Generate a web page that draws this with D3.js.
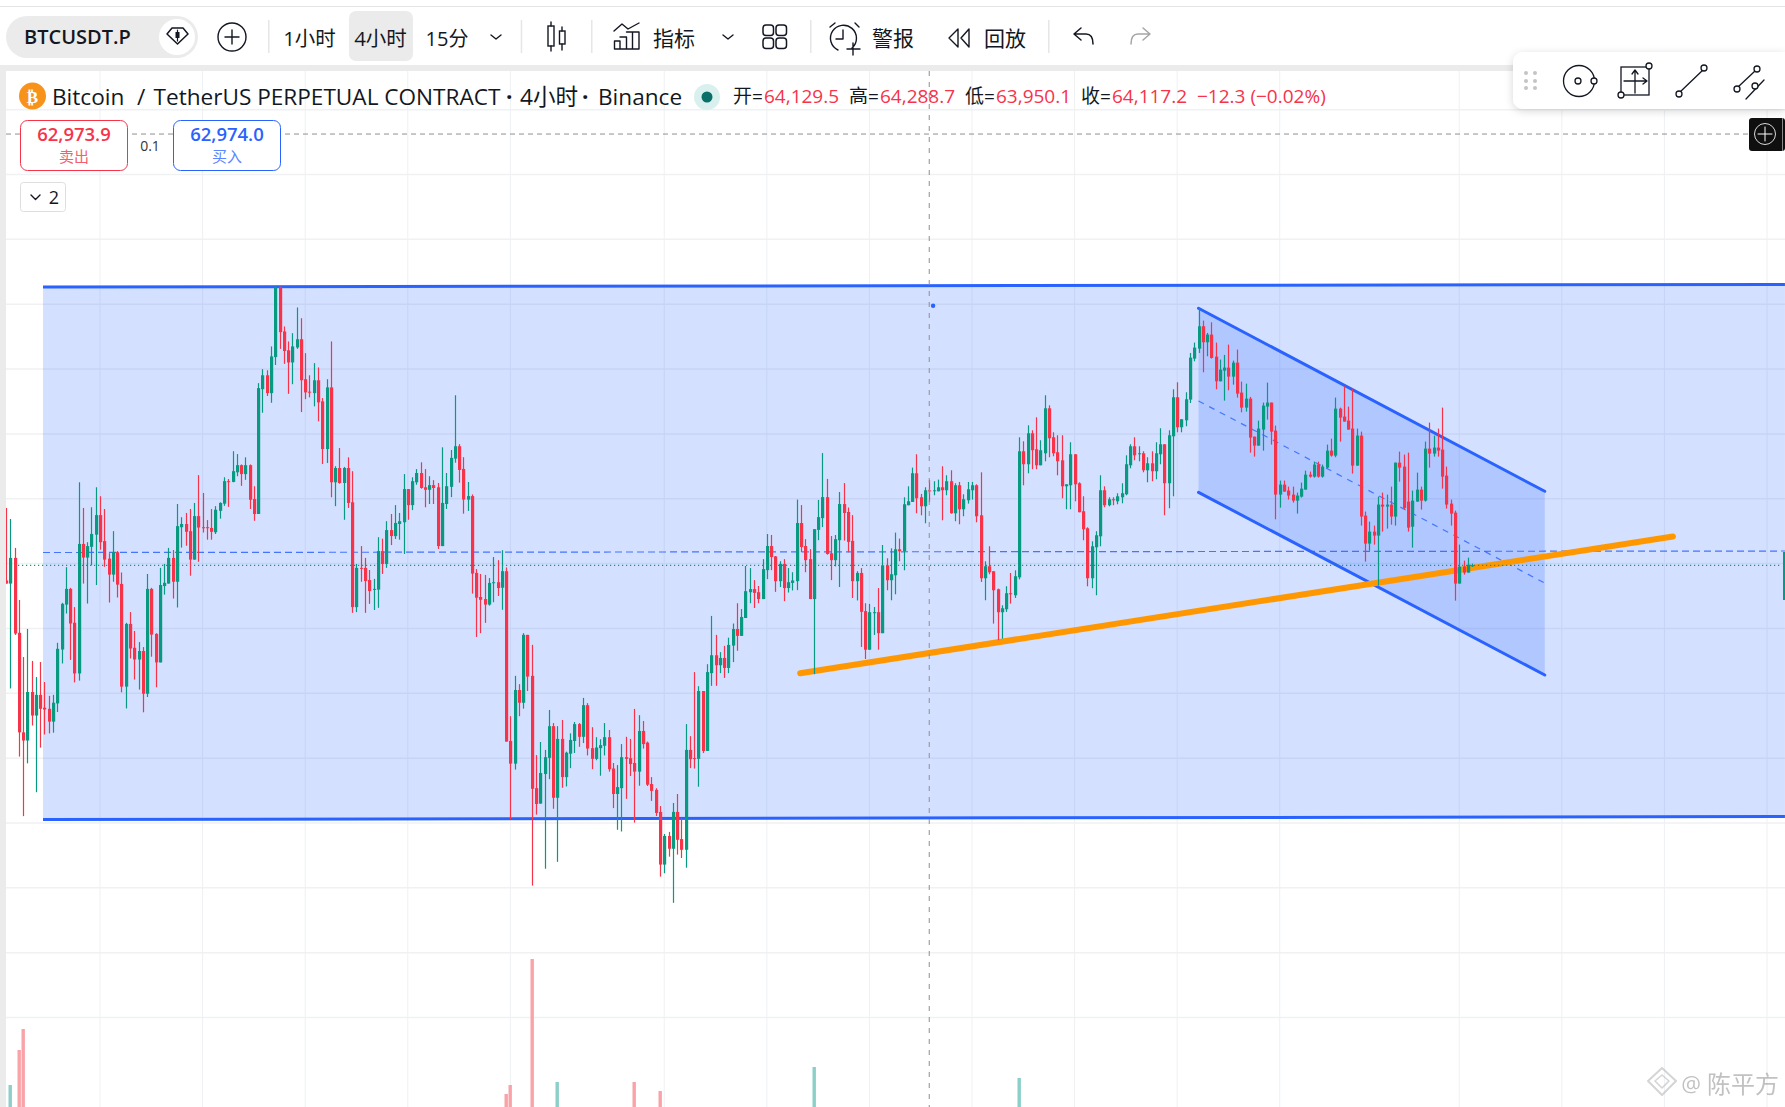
<!DOCTYPE html>
<html>
<head>
<meta charset="utf-8">
<script src="https://cdn.jsdelivr.net/npm/d3@7"></script>
<style>
html,body{margin:0;padding:0;background:#fff;overflow:hidden}
text{font-family:"Open Sans","Noto Sans CJK SC",sans-serif}
</style>
</head>
<body>
<div id="chart"></div>
<script>
// candles (index 216 is the one under the crosshair)
const opens = [
62740,62692,63088,61933,60398,60272,61020,60657,60976,60778,
60761,60563,60844,61675,62368,62610,62087,61306,63303,63093,
63259,63446,63748,63347,63077,62830,63176,62687,61103,62070,
61702,61521,61652,60993,62610,61916,61476,62654,62692,63088,
62720,63561,63611,63500,63061,63732,63561,63561,63550,63484,
63814,63924,64271,64260,64408,64518,64380,64518,63995,63765,
65690,65904,65629,66185,67268,66580,66289,66102,66333,66460,
65843,65651,65629,65827,65502,64766,65717,64254,64474,64243,
64474,63946,62329,62934,62934,62747,62599,62599,63193,62995,
63517,63424,63611,63638,64149,63902,64254,64397,64177,64138,
64210,64177,63270,63919,64184,64619,64810,64460,63987,64041,
62856,62485,62453,62368,62702,62713,62628,62883,60265,59915,
61051,60854,61901,61269,59537,59299,59755,60005,60493,59389,
60297,59708,60069,60265,60525,60329,60817,60154,59989,60154,
60191,60323,59840,59447,59537,60015,60000,59925,59792,60419,
60239,59601,59511,59171,58359,58800,58603,59171,58752,58587,
60127,60000,59989,61035,60111,61311,61587,61433,61545,61391,
61736,61991,61885,62161,62559,62607,62559,62453,62899,63271,
63111,62729,62995,62623,62702,62729,63626,63271,63069,62453,
63520,63701,64025,63159,63053,63361,63918,63796,63350,62729,
62856,62267,61672,62240,62251,61927,62974,62743,62820,63221,
63190,63900,63951,64393,64023,63884,64129.5,64121,64115,64177,
64131,64270,63776,64208,63838,63977,64131,64208,63745,62774,
62959,62882,62604,62250,62296,62543,62512,62789,64732,64532,
65010,64763,64516,64701,65395,64948,64717,64593,64192,64208,
64686,64239,63807,63545,62774,63252,63421,64131,63900,63992,
63961,64023,64069,64516,64809,64686,64701,64439,64547,64424,
64686,64840,64239,64963,65565,65102,65210,65529,66161,66315,
66660,66413,66531,66192,65811,65976,66022,65883,66099,65637,
65405,65544,64958,64819,65066,65421,65483,65051,64064,64218,
64126,64064,63971,64033,64141,64372,64341,64527,64341,64480,
64742,64665,65390,65267,65205,65082,64511,64974,63740,63308,
63493,63432,63910,63879,63910,63725,64557,64496,63956,63570,
63956,64141,63971,64773,64696,64789,64758,64357,63925,63786,
62692,62954,62861,62960];
const closes = [
62692,63088,61922,60398,60272,61020,60657,60976,60761,60750,
60563,60855,61686,62379,62610,62076,61306,63303,63093,63270,
63457,63748,63330,63061,62830,63176,62676,61103,62070,61691,
61521,61652,60993,62610,61905,61476,62670,62703,63088,62720,
63578,63611,63490,63061,63732,63556,63550,63550,63490,63831,
63935,64271,64260,64425,64518,64380,64518,63984,63765,65706,
65904,65629,66195,67268,66569,66278,66102,66349,66460,65827,
65640,65640,65827,65486,64766,65717,64254,64474,64243,64474,
63935,62329,62934,62923,62731,62577,62610,63193,62995,63517,
63424,63627,63654,64149,63902,64271,64397,64166,64138,64210,
64166,63270,63935,64193,64630,64810,64444,63987,64041,62846,
62474,62442,62368,62702,62713,62623,62883,60255,59915,61051,
60854,61901,61258,59527,59293,59771,60015,60493,59389,60297,
59708,60084,60281,60525,60329,60817,60148,59989,60164,60201,
60323,59830,59447,59554,60015,59989,59909,59792,60419,60217,
59591,59495,59155,58359,58800,58603,59171,58741,58587,60127,
59984,59989,61035,60111,61327,61587,61433,61545,61391,61746,
61991,61885,62177,62575,62607,62548,62453,62915,63271,63101,
62729,62995,62623,62713,62740,63626,63255,63053,62453,63531,
63717,64025,63148,63053,63377,63918,63780,63334,62729,62856,
62256,61672,62251,62251,61927,62973,62743,62836,63221,63190,
63915,63961,64393,64007,63884,64131,64117.2,64131,64177,64131,
64270,63776,64208,63838,63992,64146,64208,63730,62774,62959,
62866,62589,62250,62311,62543,62527,62805,64732,64532,65010,
64748,64516,64748,65395,64933,64701,64578,64192,64223,64686,
64223,63792,63529,62774,63267,63437,64131,63900,63992,63982,
64038,64085,64532,64809,64670,64701,64439,64547,64424,64701,
64840,64239,64979,65565,65102,65226,65534,66176,66331,66660,
66413,66531,66171,65811,65991,66022,65883,66099,65621,65405,
65544,64943,64819,65082,65436,65483,65035,64064,64218,64110,
64049,63971,64049,64156,64372,64341,64527,64341,64496,64742,
64665,65390,65251,65190,65066,64511,64974,63725,63308,63493,
63432,63910,63879,63910,63725,64557,64480,63858,63555,63971,
64141,63971,64773,64696,64789,64742,64341,63910,63771,62692,
62954,62861,62984,62974];
const highs = [
63858,63688,63242,62439,61559,61993,61499,61251,61482,61174,
60960,60976,61779,62395,62945,62626,62329,64254,63858,63330,
63869,64177,64039,63842,63160,63500,63193,62863,62087,62252,
61961,61790,61713,62840,62626,61927,62934,62995,63242,63209,
63919,63715,63781,63842,63935,64364,64089,63671,63842,63886,
63946,64331,64304,64733,64689,64529,64639,64529,64193,65783,
65998,65981,66349,67268,67268,66657,66426,66553,66949,66784,
66245,65904,66091,66025,65552,65843,66426,64502,64782,64491,
64639,64425,62995,63270,63088,62901,62764,63407,63385,63654,
63765,63902,63781,64380,64149,64331,64457,64562,64457,64347,
64287,64243,64793,64397,64752,65596,64842,64641,64258,64067,
62915,62840,62825,62777,63101,63053,63207,62941,60647,61269,
61141,61927,61901,61747,60047,60249,60127,60743,60541,60493,
60589,60100,60382,60557,60541,60929,60849,60477,60323,60292,
60541,60435,59925,59893,60217,60329,60297,60759,60663,60573,
60255,59708,59537,59261,58831,58863,59309,59447,59076,60525,
60339,61327,61109,61035,61449,62193,61901,61635,61731,61858,
62076,62389,62299,62963,62931,62745,62655,63069,63456,63441,
63117,63037,63069,62931,62867,63987,63902,63377,63223,63531,
63982,64704,64306,63425,63441,64104,64242,63865,63748,62883,
62931,62389,62378,62331,62623,63286,63082,63236,63478,63386,
64023,64192,64480,64686,64074,64177,64288.7,64270,64295,64501,
64362,64439,64239,64259,64069,64259,64259,64223,64408,63036,
63267,62882,62614,62357,62651,62856,62897,64948,64886,65133,
65056,65256,64902,65596,65441,65025,64979,64979,64223,64871,
64686,64254,64038,63560,63344,63499,64362,64192,64023,64023,
64085,64239,64670,64840,64948,64809,64732,64640,64732,64871,
65087,64840,65056,65688,65796,65226,65642,66248,66408,66942,
66747,66557,66721,66408,66146,66218,66377,66130,66300,65806,
65775,65570,64958,65205,65483,65791,65483,65128,64280,64280,
64187,64187,64095,64249,64434,64419,64573,64573,64527,64835,
64927,65560,65405,65734,65421,65698,65082,65035,63802,63648,
63586,64033,64095,64064,64187,64557,64727,64681,64711,64126,
64403,64187,64881,65174,64974,65082,65405,64496,63987,63817,
63293,63046,63092,63000];
const lows = [
62692,61075,61900,60024,59106,59920,60503,59475,60162,60365,
60382,60393,60712,61460,62230,61515,61168,61196,62692,62384,
62973,62670,63214,62951,62400,62720,62477,61015,60767,61537,
61212,61058,60707,60943,61564,61092,61476,62522,62692,62461,
62323,63247,63275,62813,63061,63028,63479,63369,63369,63457,
63693,63891,63875,64254,64347,64199,64292,63842,63660,63765,
65326,65585,65480,66063,66311,66080,65618,65767,66311,65337,
65536,65563,65425,65194,64535,64551,64023,63886,64232,63676,
63858,62241,62252,62720,62241,62379,62285,62318,62841,62934,
63286,63380,63369,63149,63676,63825,64216,64155,63869,63919,
63919,63225,63270,63842,64025,64556,64248,63770,63812,62538,
61869,61927,62086,62352,62405,62501,62288,60255,59060,59824,
60647,60764,61035,58035,59129,59299,58295,59676,59219,58401,
59543,59564,59846,60079,60175,60233,60042,59830,59968,59729,
60042,59792,59230,58895,58869,59373,59724,59006,59575,60148,
59570,59341,59108,58173,58226,58481,57769,58513,58460,58311,
59846,59840,59559,60079,60111,61115,61115,61311,61237,61311,
61481,61656,61885,62161,62389,62315,62389,62453,62761,62899,
62564,62639,62421,62554,62586,62591,63175,62867,62453,61295,
63361,63563,63138,62745,62957,62639,63355,63175,62469,62432,
61715,61529,61672,61900,61672,61927,62589,62435,62527,63036,
62897,63900,63951,63776,63745,63622,63950.1,64054,64115,63668,
64054,63771,63653,63607,63730,63925,63987,63637,62717,62435,
62836,62075,61818,61843,62255,62383,62471,62758,64208,64393,
64455,64455,64516,64578,64640,64655,64362,64007,63838,63838,
63961,63792,63360,62650,62620,62512,63267,63869,63884,63900,
63915,63930,64054,64470,64593,64578,64408,64254,64270,64300,
64532,63745,63853,64038,65025,65025,65118,65477,66120,66248,
65950,66197,66161,65688,65811,65513,65673,65760,65560,65333,
65344,64711,64650,64819,64742,65220,64835,63683,63863,64110,
63987,63940,63771,64018,64141,64326,64326,64326,64326,64465,
64650,64640,64881,65190,65066,64388,64511,63586,63031,63200,
63293,62661,63493,63540,63601,63586,64264,63833,63493,63247,
63956,63833,63956,64480,64650,64650,64156,63848,63586,62429,
62692,62830,62861,62950];

// volume bars tall enough to show above the bottom edge
const volumeIndex = [1,3,4,117,118,123,129,147,153,189,237];
const volumeValues = [22000,57000,78000,13000,22000,148000,25000,25000,16000,40000,29000];

// price grid and time grid
const priceTicks = d3.range(56000,71000,1000);
const timeTicks = [22,46,70,94,118,154,178,202,226,250,274,298,340,364,388,412];

// drawings, as [candle index, price]
const rangeTop = [[8.66,67265],[416.2,67304]];
const rangeBottom = [[8.66,59054],[416.2,59100]];
const rangeMiddle = [[8.66,63171],[416.2,63194]];
const channelTop = [[279,66937],[360,64115]];
const channelMiddle = [[279,65507],[360,62700]];
const channelBottom = [[279,64099],[360,61282]];
const trendLine = [[185.8,61308],[390,63419]];
const lastPrice = 62973.9;
const crosshairIndex = 216;
const crosshairPrice = 69624;
const stray = [216.9,66977];

const width = 1785, height = 1107;
const red = "#f7334a", green = "#089981", blue = "#2962ff", orange = "#ff9800", ink = "#131722";

const x = d3.scaleLinear().domain([0,412]).range([6,1767]);
const y = d3.scaleLinear().domain([63000,71000]).range([563.6,44.8]);
const yVol = d3.scaleLinear().domain([0,148000]).range([1107,959]);

const svg = d3.select("#chart").append("svg")
  .attr("width",width).attr("height",height)
  .style("display","block");

const defs = svg.append("defs");
defs.append("clipPath").attr("id","plot").append("rect")
  .attr("x",6).attr("y",71).attr("width",width-6).attr("height",height-71);
defs.append("filter").attr("id","shadow").attr("x","-10%").attr("y","-20%").attr("width","120%").attr("height","150%")
  .append("feDropShadow").attr("dx",0).attr("dy",2).attr("stdDeviation",4).attr("flood-color","#000").attr("flood-opacity",0.16);

svg.append("rect").attr("width",width).attr("height",height).attr("fill","#fff");

const plot = svg.append("g").attr("clip-path","url(#plot)");

// grid
plot.selectAll(".hgrid").data(priceTicks).enter().append("line")
  .attr("x1",6).attr("x2",width)
  .attr("y1",d=>y(d)).attr("y2",d=>y(d))
  .attr("stroke","#f0f1f3").attr("stroke-width",1.5);
plot.selectAll(".vgrid").data(timeTicks).enter().append("line")
  .attr("x1",d=>x(d)).attr("x2",d=>x(d))
  .attr("y1",71).attr("y2",height)
  .attr("stroke","#eef0f3").attr("stroke-width",1);

const line = d3.line().x(d=>x(d[0])).y(d=>y(d[1]));

// big range
plot.append("path")
  .attr("d",line([rangeTop[0],rangeTop[1],rangeBottom[1],rangeBottom[0]])+"Z")
  .attr("fill",blue).attr("fill-opacity",0.2);
plot.append("path").attr("d",line(rangeMiddle))
  .attr("fill","none").attr("stroke",blue).attr("stroke-width",1.2).attr("stroke-dasharray","7 4").attr("stroke-opacity",0.85);
[rangeTop,rangeBottom].forEach(l=>{
  plot.append("path").attr("d",line(l)).attr("fill","none").attr("stroke",blue).attr("stroke-width",3);
});

// falling channel
plot.append("path")
  .attr("d",line([channelTop[0],channelTop[1],channelBottom[1],channelBottom[0]])+"Z")
  .attr("fill",blue).attr("fill-opacity",0.2);
plot.append("path").attr("d",line(channelMiddle))
  .attr("fill","none").attr("stroke",blue).attr("stroke-width",1.2).attr("stroke-dasharray","6 6").attr("stroke-opacity",0.8);
[channelTop,channelBottom].forEach(l=>{
  plot.append("path").attr("d",line(l)).attr("fill","none").attr("stroke",blue).attr("stroke-width",3).attr("stroke-linecap","round");
});

// trend line
plot.append("path").attr("d",line(trendLine)).attr("fill","none")
  .attr("stroke",orange).attr("stroke-width",6).attr("stroke-linecap","round");

// last price line
plot.append("line")
  .attr("x1",10).attr("x2",1780)
  .attr("y1",y(lastPrice)).attr("y2",y(lastPrice))
  .attr("stroke",green).attr("stroke-width",1.2).attr("stroke-dasharray","1.2 2.8");

// volume
plot.selectAll(".vol").data(volumeIndex).enter().append("rect")
  .attr("x",d=>Math.round(x(d))-1.5).attr("width",3.4)
  .attr("y",(d,i)=>yVol(volumeValues[i]))
  .attr("height",(d,i)=>height-yVol(volumeValues[i]))
  .attr("fill",d=>closes[d]>=opens[d]?"#8ccfc9":"#f9a3a9");

// candles
const idx = d3.range(opens.length);
const colorOf = i=>closes[i]>=opens[i]?green:red;
plot.selectAll(".wick").data(idx).enter().append("rect")
  .attr("x",i=>Math.round(x(i))-0.1).attr("width",1.2)
  .attr("y",i=>y(highs[i]))
  .attr("height",i=>Math.max(1,y(lows[i])-y(highs[i])))
  .attr("fill",colorOf);
plot.selectAll(".body").data(idx).enter().append("rect")
  .attr("x",i=>Math.round(x(i))-1).attr("width",3.2)
  .attr("y",i=>y(Math.max(opens[i],closes[i])))
  .attr("height",i=>Math.max(1,Math.abs(y(opens[i])-y(closes[i]))))
  .attr("fill",colorOf);

// right edge mark and the stray drawing dot
plot.append("rect").attr("x",1783).attr("width",2)
  .attr("y",y(63179)).attr("height",y(62439)-y(63179)).attr("fill",green);
plot.append("circle").attr("cx",x(stray[0])).attr("cy",y(stray[1])).attr("r",2.2).attr("fill",blue);

// crosshair
plot.append("line")
  .attr("x1",x(crosshairIndex)).attr("x2",x(crosshairIndex))
  .attr("y1",71).attr("y2",height)
  .attr("stroke","#8f8f8f").attr("stroke-width",1).attr("stroke-dasharray","5 6");
plot.append("line")
  .attr("x1",6).attr("x2",1750)
  .attr("y1",y(crosshairPrice)).attr("y2",y(crosshairPrice))
  .attr("stroke","#8f8f8f").attr("stroke-width",1).attr("stroke-dasharray","5 4");

// chrome around the chart
svg.append("rect").attr("y",6).attr("width",width).attr("height",1).attr("fill","#e4e4e4");
svg.append("rect").attr("y",65).attr("width",width).attr("height",6).attr("fill","#ebebeb");
svg.append("rect").attr("y",65).attr("width",6).attr("height",height-65).attr("fill","#ebebeb");

function label(g,txt,px,py,size,color,anchor,weight){
  return g.append("text").attr("x",px).attr("y",py)
    .attr("font-size",size).attr("fill",color)
    .attr("text-anchor",anchor||"start").attr("font-weight",weight||400)
    .attr("dominant-baseline","central").text(txt);
}
function icon(g,d,color,w){
  return g.append("path").attr("d",d).attr("fill","none")
    .attr("stroke",color||ink).attr("stroke-width",w||1.4)
    .attr("stroke-linecap","round").attr("stroke-linejoin","round");
}

// top toolbar
const bar = svg.append("g");
bar.append("rect").attr("x",6).attr("y",16).attr("width",192).attr("height",42).attr("rx",21).attr("fill","#ebebeb");
bar.append("circle").attr("cx",177).attr("cy",37).attr("r",18).attr("fill","#fff");
label(bar,"BTCUSDT.P",24,36.5,20,ink,"start",600);
icon(bar,"M172 28H183L188 34L177.5 44L167 34Z",ink,1.5);
icon(bar,"M177.5 30V41",ink,1.2);
bar.append("rect").attr("x",175.5).attr("y",32).attr("width",4).attr("height",6).attr("fill",ink);
bar.append("circle").attr("cx",232).attr("cy",37).attr("r",14).attr("fill","none").attr("stroke",ink).attr("stroke-width",1.4);
icon(bar,"M225 37H239M232 30V44");
[268,520.7,591,810,1048].forEach(sx=>{
  bar.append("rect").attr("x",sx).attr("y",20).attr("width",1.5).attr("height",33).attr("fill","#e6e6e6");
});
bar.append("rect").attr("x",349).attr("y",11).attr("width",64).attr("height",50).attr("rx",7).attr("fill","#ebebeb");
label(bar,"1小时",309.5,38,20.5,ink,"middle");
label(bar,"4小时",380.5,38,20.5,ink,"middle");
label(bar,"15分",447,38,20,ink,"middle");
icon(bar,"M491 35L496 39L501 35");
// candle icon
icon(bar,"M551 22V26M551 46V51M562 27V31M562 44V50");
bar.append("rect").attr("x",548).attr("y",26).attr("width",6).attr("height",20).attr("fill","none").attr("stroke",ink).attr("stroke-width",1.4);
bar.append("rect").attr("x",559.5).attr("y",31).attr("width",5.5).attr("height",13).attr("fill","none").attr("stroke",ink).attr("stroke-width",1.4);
// indicator icon
icon(bar,"M614 31L622 24L628 29L639 23");
icon(bar,"M614.5 49V41H620V49M620 37H626.5V49M626.5 32H639V49M614.5 49H639M632.5 32V49");
label(bar,"指标",653,38,21,ink,"start");
icon(bar,"M723 35L728 39L733 35");
[[763,25],[776,25],[763,38],[776,38]].forEach(p=>{
  bar.append("rect").attr("x",p[0]).attr("y",p[1]).attr("width",10.5).attr("height",10.5).attr("rx",3)
    .attr("fill","none").attr("stroke",ink).attr("stroke-width",1.5);
});
// alarm icon
icon(bar,"M852 48A13 13 0 1 0 838 50M843 30V39H836M830 27L835 23M855 23L859 27M853 43V55M847 49H860");
label(bar,"警报",872,38,21,ink,"start");
icon(bar,"M958 29L949 38L958 47ZM969 29L961 38L969 47Z");
label(bar,"回放",984,38,21,ink,"start");
// undo, redo
icon(bar,"M1081 28L1074 34L1081 40M1074 34H1086Q1093 34 1093 44",ink,1.5);
icon(bar,"M1143 28L1150 34L1143 40M1150 34H1138Q1131 34 1131 44","#a5a5a5",1.5);

// legend row
const leg = svg.append("g");
leg.append("circle").attr("cx",32.5).attr("cy",96).attr("r",13.5).attr("fill","#f7931a");
label(leg,"₿",32.5,96.5,17,"#fff","middle",700).style("font-family","DejaVu Sans");
const title = [["Bitcoin",52],["/",137],["TetherUS PERPETUAL CONTRACT",153.5],["·",506],["4小时",520],["·",582],["Binance",598]];
title.forEach(t=>label(leg,t[0],t[1],96,22.6,ink,"start",t[0]==="·"?700:400));
leg.append("circle").attr("cx",707).attr("cy",97).attr("r",13).attr("fill","#d9f0ee");
leg.append("circle").attr("cx",707).attr("cy",97).attr("r",5.5).attr("fill","#0a6f68");
[["开=",733,"64,129.5",764],["高=",849,"64,288.7",880],["低=",965,"63,950.1",996],["收=",1081,"64,117.2",1112]]
  .forEach(o=>{
    label(leg,o[0],o[1],96,19,ink);
    label(leg,o[2],o[3],96,19,red);
  });
label(leg,"−12.3 (−0.02%)",1197,96,19,red);

// order buttons
const sell = svg.append("g");
sell.append("rect").attr("x",20.5).attr("y",120.5).attr("width",107).attr("height",50).attr("rx",7).attr("fill","#fff").attr("stroke",red);
label(sell,"62,973.9",74,133.5,18.5,red,"middle",600);
label(sell,"卖出",74,156,15,"#f2606f","middle");
const buy = svg.append("g");
buy.append("rect").attr("x",173.5).attr("y",120.5).attr("width",107).attr("height",50).attr("rx",7).attr("fill","#fff").attr("stroke",blue);
label(buy,"62,974.0",227,133.5,18.5,blue,"middle",600);
label(buy,"买入",227,156,15,"#5b86ff","middle");
label(svg,"0.1",150,145.5,14,"#333","middle");
svg.append("rect").attr("x",20.5).attr("y",182.5).attr("width",45).attr("height",29).attr("rx",3).attr("fill","#fff").attr("stroke","#dedede");
icon(svg,"M31 195L35.5 199.5L40 195");
label(svg,"2",54,197,18,ink,"middle");

// drawing toolbar
const tools = svg.append("g");
tools.append("path").attr("d","M1785 52H1523A10 10 0 0 0 1513 62V99A10 10 0 0 0 1523 109H1785Z")
  .attr("fill","#fff").attr("filter","url(#shadow)");
[1526,1535].forEach(dx=>{
  [73,81,88].forEach(dy=>{
    tools.append("circle").attr("cx",dx).attr("cy",dy).attr("r",2).attr("fill","#c4c4c4");
  });
});
function handle(cx,cy){
  tools.append("circle").attr("cx",cx).attr("cy",cy).attr("r",3).attr("fill","#fff").attr("stroke",ink).attr("stroke-width",1.3);
}
tools.append("circle").attr("cx",1579).attr("cy",81).attr("r",15.5).attr("fill","none").attr("stroke",ink).attr("stroke-width",1.3);
handle(1578,81); handle(1594,81);
tools.append("rect").attr("x",1621).attr("y",67).attr("width",28).attr("height",28).attr("fill","none").attr("stroke",ink).attr("stroke-width",1.3);
icon(tools,"M1635 72V93M1624 81H1647M1632 74L1635 70L1638 74M1643 78L1647 81L1643 84",ink,1.3);
handle(1649,66); handle(1621,95);
icon(tools,"M1680 92L1703 70",ink,1.3); handle(1679,94); handle(1704,68);
icon(tools,"M1738 87L1755 71M1746 99L1764 80",ink,1.3); handle(1737,89); handle(1757,69); handle(1755,86);

const plus = svg.append("g");
plus.append("rect").attr("x",1749).attr("y",118).attr("width",36).attr("height",33).attr("rx",3).attr("fill","#0f0f0f");
plus.append("circle").attr("cx",1765).attr("cy",134).attr("r",10.5).attr("fill","none").attr("stroke","#d8d8d8").attr("stroke-width",1);
icon(plus,"M1758 134H1772M1765 127V141","#fff",1);
plus.append("rect").attr("x",1782).attr("y",118).attr("width",1).attr("height",33).attr("fill","#8a8a8a");

// watermark
const mark = svg.append("g").attr("opacity",0.6);
icon(mark,"M1662 1068L1676 1081L1662 1095L1648 1081Z","#b9b9b9",2);
icon(mark,"M1662 1075L1669 1081L1662 1088L1655 1081Z","#b9b9b9",1.6);
label(mark,"@",1691,1083,22,"#999","middle");
label(mark,"陈平方",1707,1083,24,"#999","start");
</script>
</body>
</html>
